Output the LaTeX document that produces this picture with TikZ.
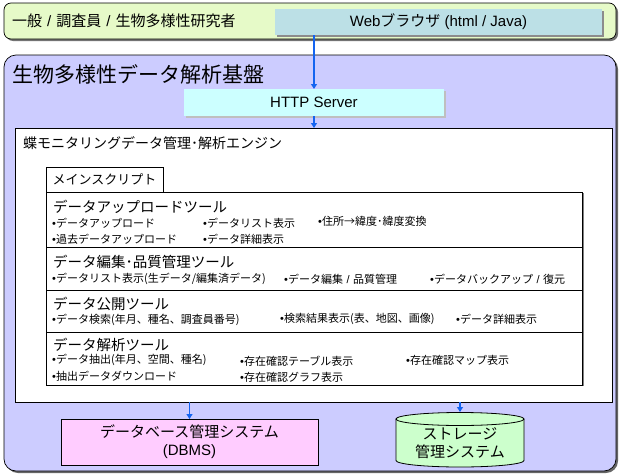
\documentclass[tikz,border=0pt]{standalone}
\usepackage{fontspec}
\setmainfont{Liberation Sans}
\newfontfamily\cjk{Noto Sans CJK JP}
\newfontfamily\lib{Liberation Sans}
\usetikzlibrary{arrows.meta}
\definecolor{usergreen}{RGB}{230,250,200}
\definecolor{webfill}{RGB}{188,224,230}
\definecolor{basepurple}{RGB}{204,204,255}
\definecolor{httpfill}{RGB}{204,255,255}
\definecolor{dbfill}{RGB}{255,204,255}
\definecolor{cylfill}{RGB}{204,255,204}
\definecolor{arrowblue}{RGB}{20,100,240}
\newcommand\bul{{\lib •}}
\newcommand\bigsep{\hspace{5pt}{\lib /}\hspace{5pt}}
\newcommand\smsep{\hspace{3.5pt}{\lib /}\hspace{3.5pt}}
\tikzset{
  boxbase/.style={rectangle, inner sep=0pt, outer sep=0pt},
  conn/.style={draw=arrowblue, line width=1.6pt, -{Triangle[length=5pt,width=6pt]}},
  hdr/.style={anchor=west, inner sep=0pt, font=\fontsize{14.5}{17}\selectfont\cjk},
  bl/.style={anchor=west, inner sep=0pt, font=\fontsize{11}{13}\selectfont\cjk},
  rowline/.style={draw=black, line width=0.8pt}
}
\begin{document}
\begin{tikzpicture}[x=1pt,y=-1pt]
\useasboundingbox (0,0) rectangle (619,474);
% user layer
\fill[black!55, rounded corners=7pt] (6,5) rectangle (618,41);
\draw[fill=usergreen, line width=0.7pt, rounded corners=7pt] (4,3) rectangle (616,39);
\node[anchor=west, inner sep=0pt, font=\fontsize{15}{18}\selectfont\cjk] (users) at (12,21) {一般\bigsep 調査員\bigsep 生物多様性研究者};
\fill[black!45] (277,11) rectangle (604,37);
\node[boxbase, fill=webfill, minimum width=327, minimum height=26, anchor=north west] (web) at (275,9) {};
\node[font=\fontsize{15}{17}\selectfont] (webtxt) at (web.center) {Web{\cjk ブラウザ} (html / Java)};
% base
\fill[black!60, rounded corners=12pt] (6,57) rectangle (618,473);
\draw[fill=basepurple, line width=0.7pt, rounded corners=12pt] (4,55) rectangle (616,471);
\node[anchor=west, inner sep=0pt, font=\fontsize{21}{24}\selectfont\cjk] (basettl) at (12,74) {生物多様性データ解析基盤};
\fill[black!25] (186,91) rectangle (446,118);
\node[boxbase, fill=httpfill, minimum width=260, minimum height=27, anchor=north west] (http) at (184,89) {};
\node[font=\fontsize{15}{17}\selectfont] (httptxt) at (http.center) {HTTP Server};
% engine
\node[boxbase, draw=black, line width=0.8pt, fill=white, minimum width=597, minimum height=274, anchor=north west] (engine) at (15,128) {};
\node[anchor=west, inner sep=0pt, font=\fontsize{14}{16}\selectfont\cjk] (engttl) at (23,143) {蝶モニタリングデータ管理･解析エンジン};
\node[boxbase, draw=black, line width=0.8pt, minimum width=117, minimum height=25, anchor=north west, font=\fontsize{13}{15}\selectfont\cjk] (mains) at (46,167) {メインスクリプト};
% tools box
\draw[black!50, line width=1pt] (583.5,193) -- (583.5,386);
\node[boxbase, draw=black, line width=0.8pt, minimum width=536, minimum height=193, anchor=north west] (tools) at (46,192) {};
\draw[rowline] (46,247) -- (582,247);
\draw[rowline] (46,290) -- (582,290);
\draw[rowline] (46,332) -- (582,332);
% row 1
\node[hdr] (h1) at (53,207) {データアップロードツール};
\node[bl] (b11) at (52,223) {\bul データアップロード};
\node[bl] (b12) at (203,223) {\bul データリスト表示};
\node[bl] (b13) at (318,221) {\bul 住所→緯度･緯度変換};
\node[bl] (b14) at (52,239) {\bul 過去データアップロード};
\node[bl] (b15) at (203,239) {\bul データ詳細表示};
% row 2
\node[hdr] (h2) at (53,262) {データ編集･品質管理ツール};
\node[bl] (b21) at (52,279) {\bul データリスト表示(生データ/編集済データ)};
\node[bl] (b22) at (284,279) {\bul データ編集\smsep 品質管理};
\node[bl] (b23) at (430,279) {\bul データバックアップ\smsep 復元};
% row 3
\node[hdr] (h3) at (53,304) {データ公開ツール};
\node[bl] (b31) at (52,320) {\bul データ検索(年月、種名、調査員番号)};
\node[bl] (b32) at (280,319) {\bul 検索結果表示(表、地図、画像)};
\node[bl] (b33) at (456,319) {\bul データ詳細表示};
% row 4
\node[hdr] (h4) at (53,345) {データ解析ツール};
\node[bl] (b41) at (52,360) {\bul データ抽出(年月、空間、種名)};
\node[bl] (b42) at (240,361) {\bul 存在確認テーブル表示};
\node[bl] (b43) at (406,360) {\bul 存在確認マップ表示};
\node[bl] (b44) at (52,376) {\bul 抽出データダウンロード};
\node[bl] (b45) at (240,377) {\bul 存在確認グラフ表示};
% DBMS
\node[boxbase, draw=black, line width=0.8pt, fill=dbfill, minimum width=257, minimum height=46, anchor=north west, align=center, font=\fontsize{15}{18}\selectfont] (dbms) at (61,419) {{\cjk データベース管理システム}\\(DBMS)};
% storage cylinder
\node[boxbase, minimum width=128, minimum height=55, anchor=north west] (stor) at (396,412) {};
\draw[fill=cylfill, line width=0.8pt] (396,419) -- (396,460.5) arc[start angle=180, end angle=0, x radius=64, y radius=6.5] -- (524,419);
\draw[fill=cylfill, line width=0.8pt] (460,419) ellipse[x radius=64, y radius=6.5];
\node[align=center, font=\fontsize{15}{18}\selectfont\cjk] (stortxt) at (460,443) {ストレージ\\管理システム};
% connectors
\draw[conn] (web.south -| http.north) -- (http.north);
\draw[conn] (http.south) -- (http.south |- engine.north);
\draw[conn] (dbms.north |- engine.south) -- (dbms.north);
\draw[conn] (stor.north |- engine.south) -- (stor.north);
\end{tikzpicture}
\end{document}
